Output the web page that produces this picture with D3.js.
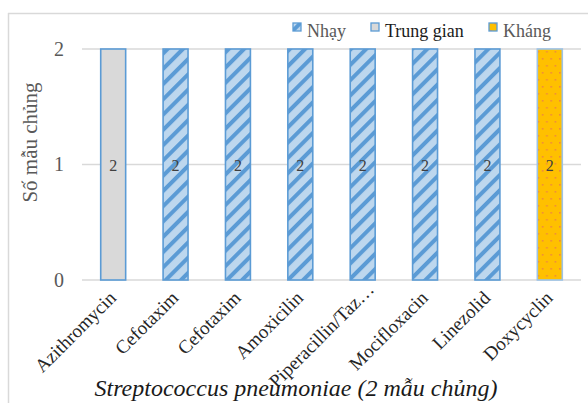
<!DOCTYPE html>
<html>
<head>
<meta charset="utf-8">
<script src="https://cdn.jsdelivr.net/npm/d3@7"></script>
<style>
  html, body { margin: 0; padding: 0; background: #fff; }
  svg { display: block; }
  svg text { font-family: "Liberation Serif", serif; }
</style>
</head>
<body>
<svg id="chart" width="588" height="403"></svg>
<script>
// Antibiotics tested
const categories = ["Azithromycin", "Cefotaxim", "Cefotaxim", "Amoxicilin",
  "Piperacillin/Taz…", "Mocifloxacin", "Linezolid", "Doxycyclin"];

// Number of strains per susceptibility outcome
const nhay      = [0, 2, 2, 2, 2, 2, 2, 0]; // Nhạy
const trungGian = [2, 0, 0, 0, 0, 0, 0, 0]; // Trung gian
const khang     = [0, 0, 0, 0, 0, 0, 0, 2]; // Kháng

const seriesNames = ["Nhạy", "Trung gian", "Kháng"];
const yTicks = [0, 1, 2];

const yTitle = "Số mẫu chủng";
const xTitle = "Streptococcus pneumoniae (2 mẫu chủng)";

const FONT = '"Liberation Serif", serif';

const rows = categories.map((c, i) => ({
  idx: i, cat: c,
  "Nhạy": nhay[i], "Trung gian": trungGian[i], "Kháng": khang[i]
}));

const svg = d3.select("#chart");
const W = 588, H = 403;
const plot = { left: 82, right: 581, top: 49, bottom: 280 };

// Fill patterns
const defs = svg.append("defs");
const hatch = defs.append("pattern")
  .attr("id", "hatch").attr("patternUnits", "userSpaceOnUse")
  .attr("width", 10.8).attr("height", 10.8)
  .attr("patternTransform", "rotate(45)");
hatch.append("rect").attr("width", 10.8).attr("height", 10.8).attr("fill", "#bdd7ee");
hatch.append("rect").attr("x", 0).attr("width", 4).attr("height", 10.8).attr("fill", "#5b9bd5");

const dots = defs.append("pattern")
  .attr("id", "dots").attr("patternUnits", "userSpaceOnUse")
  .attr("width", 8.6).attr("height", 14);
dots.append("rect").attr("width", 8.6).attr("height", 14).attr("fill", "#ffc000");
dots.append("rect").attr("x", 0).attr("y", 2).attr("width", 1.6).attr("height", 1.6).attr("fill", "#f08a3c");
dots.append("rect").attr("x", 4.3).attr("y", 9).attr("width", 1.6).attr("height", 1.6).attr("fill", "#f08a3c");

const fills = { "Nhạy": "url(#hatch)", "Trung gian": "#d9d9d9", "Kháng": "url(#dots)" };
const strokes = { "Nhạy": "#5b9bd5", "Trung gian": "#5b9bd5", "Kháng": "#9dc3e6" };

// Chart frame edges
svg.append("line").attr("x1", 8.5).attr("x2", 8.5).attr("y1", 13).attr("y2", H)
  .attr("stroke", "#d9d9d9").attr("stroke-width", 1.5);
svg.append("line").attr("x1", 8).attr("x2", W).attr("y1", 13.5).attr("y2", 13.5)
  .attr("stroke", "#d9d9d9").attr("stroke-width", 1.5);

const x = d3.scaleBand().domain(d3.range(categories.length))
  .range([plot.left, plot.right]).paddingInner(0.6).paddingOuter(0.3);
const y = d3.scaleLinear().domain([0, 2]).range([plot.bottom, plot.top]);

// Gridlines
svg.append("g").selectAll("line").data(yTicks).join("line")
  .attr("x1", plot.left).attr("x2", plot.right)
  .attr("y1", d => y(d)).attr("y2", d => y(d))
  .attr("stroke", "#d9d9d9").attr("stroke-width", 1.3);

// Y axis labels
const yAxis = svg.append("g").attr("transform", `translate(${plot.left - 18},0)`)
  .call(d3.axisLeft(y).tickValues(yTicks).tickFormat(d3.format("d")).tickSize(0).tickPadding(0));
yAxis.select(".domain").remove();
yAxis.attr("font-family", null);
yAxis.selectAll("text").attr("font-size", 20).attr("fill", "#595959")
  .style("font-family", FONT);

// Stacked bars
const stack = d3.stack().keys(seriesNames)(rows);
const layers = svg.append("g").selectAll("g").data(stack).join("g");
layers.selectAll("rect").data(s => s.map(d => ({ key: s.key, d })).filter(o => o.d[1] - o.d[0] > 0))
  .join("rect")
  .attr("x", o => x(o.d.data.idx))
  .attr("width", x.bandwidth())
  .attr("y", o => y(o.d[1]))
  .attr("height", o => y(o.d[0]) - y(o.d[1]))
  .attr("fill", o => fills[o.key])
  .attr("stroke", o => strokes[o.key])
  .attr("stroke-width", 1.6);

// Value labels
layers.selectAll("text").data(s => s.map(d => ({ key: s.key, d })).filter(o => o.d[1] - o.d[0] > 0))
  .join("text")
  .attr("x", o => x(o.d.data.idx) + x.bandwidth() / 2)
  .attr("y", o => y((o.d[0] + o.d[1]) / 2) + 6.5)
  .attr("text-anchor", "middle").attr("font-size", 16).attr("fill", "#404040")
  .style("font-family", FONT)
  .text(o => o.d[1] - o.d[0]);

// Category labels (truncated names keep room for the clipped tail)
const xAxis = svg.append("g").attr("transform", `translate(0,${plot.bottom})`)
  .call(d3.axisBottom(x).tickFormat(i => categories[i]).tickSize(0).tickPadding(0));
xAxis.select(".domain").remove();
xAxis.attr("font-family", null);
xAxis.selectAll("text")
  .attr("font-size", 19).attr("fill", "#262626").style("font-family", FONT)
  .attr("text-anchor", "end").attr("dy", null).attr("y", 0)
  .attr("x", i => categories[i].endsWith("…") ? 12 : 0)
  .attr("transform", "translate(4,19) rotate(-45)");

// Axis titles
svg.append("text")
  .attr("transform", `translate(37,142.5) rotate(-90)`)
  .attr("text-anchor", "middle").attr("font-size", 21).attr("fill", "#595959")
  .style("font-family", FONT)
  .text(yTitle);
svg.append("text")
  .attr("x", 296).attr("y", 396).attr("text-anchor", "middle")
  .attr("font-size", 24).attr("font-style", "italic").attr("fill", "#1a1a1a")
  .style("font-family", FONT)
  .text(xTitle);

// Legend
const legendItems = [
  { name: "Nhạy", sx: 293, tx: 307, color: "#595959" },
  { name: "Trung gian", sx: 371, tx: 385, color: "#1a1a1a" },
  { name: "Kháng", sx: 489, tx: 503, color: "#595959" }
];
const lg = svg.append("g").selectAll("g").data(legendItems).join("g");
lg.append("rect").attr("x", d => d.sx).attr("y", 23).attr("width", 8).attr("height", 8)
  .attr("fill", d => fills[d.name]).attr("stroke", "#5b9bd5")
  .attr("stroke-width", 1.3);
lg.append("text").attr("x", d => d.tx).attr("y", 36.5).attr("font-size", 18)
  .attr("fill", d => d.color).style("font-family", FONT).text(d => d.name);
</script>
</body>
</html>
